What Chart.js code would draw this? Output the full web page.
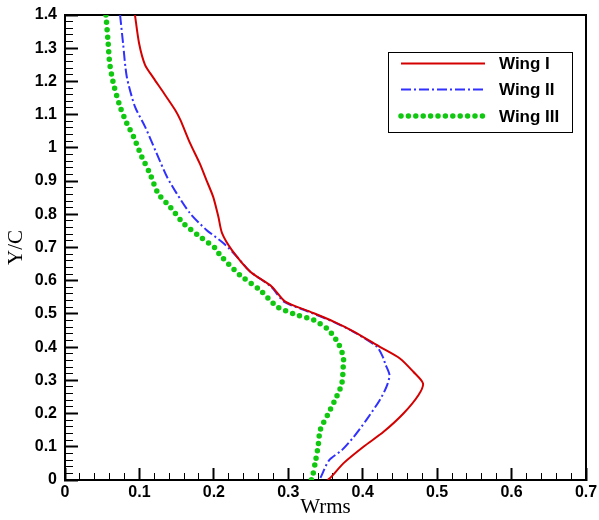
<!DOCTYPE html>
<html>
<head>
<meta charset="utf-8">
<script src="https://cdn.jsdelivr.net/npm/chart.js@4.4.1/dist/chart.umd.min.js"></script>
<style>
html,body{margin:0;padding:0;background:#fff;}
#wrap{position:relative;width:599px;height:520px;}
</style>
</head>
<body>
<div id="wrap"><canvas id="c" width="599" height="520"></canvas></div>
<script>
// Data (Y/C vs Wrms)
const seriesNames = ["Wing I", "Wing II", "Wing III"];
const wing1Y = [1.4,1.315,1.25,1.21,1.174,1.114,1.084,1.014,0.953,0.903,0.853,0.793,0.743,0.693,0.627,0.582,0.537,0.507,0.477,0.447,0.401,0.366,0.326,0.291,0.256,0.201,0.145,0.100,0.050,0.010,0.0];
const wing1X = [0.094,0.0995,0.1075,0.119,0.130,0.148,0.155,0.168,0.181,0.190,0.199,0.206,0.211,0.224,0.249,0.278,0.296,0.329,0.361,0.388,0.423,0.450,0.468,0.481,0.475,0.455,0.428,0.401,0.374,0.358,0.353];
const wing2Y = [1.4,1.315,1.214,1.124,1.064,0.984,0.913,0.863,0.803,0.753,0.713,0.67,0.627,0.582,0.537,0.507,0.477,0.447,0.401,0.366,0.351,0.316,0.281,0.241,0.181,0.130,0.090,0.060,0.010,0.0];
const wing2X = [0.074,0.078,0.083,0.094,0.1075,0.123,0.137,0.150,0.168,0.190,0.213,0.232,0.249,0.277,0.294,0.327,0.360,0.387,0.419,0.428,0.430,0.436,0.432,0.423,0.405,0.388,0.372,0.355,0.344,0.342];
const wing3Y = [1.4,1.315,1.255,1.194,1.124,1.074,1.034,0.974,0.923,0.863,0.823,0.773,0.733,0.698,0.678,0.617,0.572,0.522,0.497,0.482,0.452,0.412,0.371,0.351,0.291,0.251,0.201,0.151,0.100,0.050,0.015,0.0];
const wing3X = [0.055,0.058,0.060,0.065,0.074,0.083,0.092,0.103,0.114,0.125,0.141,0.159,0.181,0.202,0.208,0.235,0.262,0.285,0.311,0.334,0.354,0.367,0.374,0.374,0.372,0.365,0.354,0.343,0.340,0.336,0.333,0.331];

const xTickMin = 0, xTickMax = 0.7, xMinorStep = 0.02;
const yTickMin = 0, yTickMax = 1.4, yMinorStep = 0.02;
const minorPerMajor = 5;

function pts(xs, ys){ return xs.map((x,i)=>({x:x, y:ys[i]})); }

const styles = [
  {color:'#d40000', width:2, dash:[], cap:'butt'},
  {color:'#3030ff', width:2, dash:[10,3,2,3], cap:'butt'},
  {color:'#10c810', width:5.5, dash:[0,7.4], cap:'round'}
];

const datasets = [pts(wing1X,wing1Y), pts(wing2X,wing2Y), pts(wing3X,wing3Y)].map((d,i)=>({
  label: seriesNames[i],
  data: d,
  showLine: true,
  borderColor: styles[i].color,
  backgroundColor: styles[i].color,
  borderWidth: styles[i].width,
  borderDash: styles[i].dash,
  borderCapStyle: styles[i].cap,
  pointRadius: 0,
  tension: 0.25,
  fill: false
}));

const tickFont = {family:'"Liberation Sans", Arial, sans-serif', size:16, weight:'bold'};
const isMajor = idx => idx % minorPerMajor === 0;
const fmtLabel = (v, idx) => isMajor(idx) ? String(parseFloat(Number(v).toFixed(2))) : '';

const legendPlugin = {
  id:'legendBox',
  afterDraw(chart){
    const ctx = chart.ctx;
    ctx.save();
    const bx = 388, by = 52, bw = 184, bh = 80;
    ctx.fillStyle = '#fff';
    ctx.fillRect(bx, by, bw, bh);
    ctx.strokeStyle = '#000';
    ctx.lineWidth = 1;
    ctx.strokeRect(bx + 0.5, by + 0.5, bw, bh);
    const rows = [63.5, 89.5, 116];
    chart.data.datasets.forEach((ds, i) => {
      ctx.save();
      ctx.strokeStyle = ds.borderColor;
      ctx.lineWidth = ds.borderWidth;
      ctx.setLineDash(ds.borderDash);
      ctx.lineCap = ds.borderCapStyle;
      ctx.beginPath();
      ctx.moveTo(401, rows[i]);
      ctx.lineTo(485, rows[i]);
      ctx.stroke();
      ctx.restore();
      ctx.fillStyle = '#000';
      ctx.font = 'bold 17px "Liberation Sans", Arial, sans-serif';
      ctx.textBaseline = 'middle';
      ctx.textAlign = 'left';
      ctx.fillText(ds.label, 499, rows[i] + 1);
    });
    ctx.restore();
  }
};

const frameAxis = (pos, min, max) => ({
  type: 'linear', position: pos, min: min, max: max,
  afterFit(s){ if (s.isHorizontal()) s.height = 0; else s.width = 0; s.paddingTop = 0; s.paddingBottom = 0; s.paddingLeft = 0; s.paddingRight = 0; },
  ticks: { display: false },
  grid: { display: false, drawTicks: false },
  border: { display: true, color: '#000', width: 2 }
});

new Chart(document.getElementById('c'), {
  type: 'scatter',
  data: { datasets },
  options: {
    responsive: false,
    animation: false,
    devicePixelRatio: 1,
    layout: { padding: { left: 4, right: 13, top: 15, bottom: 0 } },
    plugins: { legend: { display: false }, tooltip: { enabled: false } },
    scales: {
      x: {
        type: 'linear', position: 'bottom', min: xTickMin, max: xTickMax,
        afterFit(s){ s.height = 40; s.paddingLeft = 0; s.paddingRight = 0; },
        ticks: { stepSize: xMinorStep, autoSkip: false, font: tickFont, color: '#000', padding: 15, maxRotation: 0,
          callback: (v, idx) => fmtLabel(v, idx) },
        grid: { display: true, drawOnChartArea: false, drawTicks: true, tickLength: -12, tickColor: '#000',
          tickWidth: c => isMajor(c.index) ? 2 : 1,
          tickBorderDash: c => isMajor(c.index) ? [] : [8, 20],
          tickBorderDashOffset: 0 },
        border: { display: true, color: '#000', width: 2 },
        title: { display: true, text: 'Wrms', color: '#000',
          font: { family: '"Liberation Serif", "Times New Roman", serif', size: 21 },
          padding: { top: 0, bottom: 0 } }
      },
      y: {
        type: 'linear', position: 'left', min: yTickMin, max: yTickMax,
        afterFit(s){ s.width = 61; s.paddingTop = 0; s.paddingBottom = 0; },
        ticks: { stepSize: yMinorStep, autoSkip: false, font: tickFont, color: '#000', padding: 21,
          callback: (v, idx) => fmtLabel(v, idx) },
        grid: { display: true, drawOnChartArea: false, drawTicks: true, tickLength: -13, tickColor: '#000',
          tickWidth: c => isMajor(c.index) ? 2 : 1,
          tickBorderDash: c => isMajor(c.index) ? [] : [9, 5],
          tickBorderDashOffset: c => isMajor(c.index) ? 0 : 9 },
        border: { display: true, color: '#000', width: 2 },
        title: { display: true, text: 'Y/C', color: '#000',
          font: { family: '"Liberation Serif", "Times New Roman", serif', size: 21 },
          padding: { top: 0, bottom: 0 } }
      },
      xTop: frameAxis('top', xTickMin, xTickMax),
      yRight: frameAxis('right', yTickMin, yTickMax)
    }
  },
  plugins: [legendPlugin]
});
</script>
</body>
</html>
